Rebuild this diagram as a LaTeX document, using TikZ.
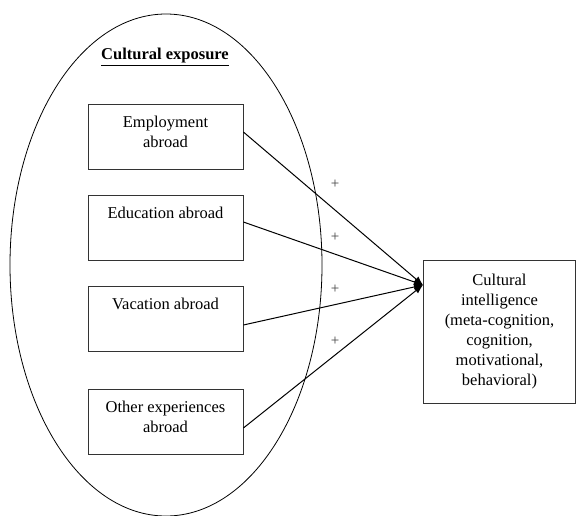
\documentclass[tikz,border=0pt]{standalone}
\usepackage{fontspec}
\setmainfont{Liberation Serif}
\usetikzlibrary{arrows.meta}
\begin{document}
\begin{tikzpicture}[x=1pt,y=-1pt,
  every node/.style={font=\fontsize{16.5}{20}\selectfont},
  srcbox/.style={draw=black!80,line width=0.8pt,minimum width=155pt,minimum height=65pt,inner sep=0pt},
  boxtext/.style={anchor=north,align=center,inner sep=0pt},
  link/.style={line width=1pt,-{Latex[length=9pt,width=7pt]}},
  plus/.style={font=\fontsize{15}{16}\selectfont,inner sep=0pt,text=black!75}]
\useasboundingbox (0,0) rectangle (576,515);
\draw[line width=0.8pt] (166,265) ellipse [x radius=156, y radius=251];
\node[font=\bfseries\fontsize{16.5}{20}\selectfont] (title) at (165,57) {\underline{Cultural exposure}};
\node[srcbox] (emp) at (165.5,136.5) {};
\node[srcbox] (edu) at (165.5,227.5) {};
\node[srcbox] (vac) at (165.5,318.5) {};
\node[srcbox] (oth) at (165.5,422) {};
\node[boxtext] (empt) at ([yshift=-12pt]emp.north) {Employment\\abroad};
\node[boxtext] (edut) at ([yshift=-12pt]edu.north) {Education abroad};
\node[boxtext] (vact) at ([yshift=-12pt]vac.north) {Vacation abroad};
\node[boxtext] (otht) at ([yshift=-12pt]oth.north) {Other experiences\\abroad};
\node[draw=black!80,line width=0.8pt,minimum width=152pt,minimum height=143pt,align=center] (ci) at (499.5,331.5)
  {Cultural\\intelligence\\(meta-cognition,\\cognition,\\motivational,\\behavioral)};
\coordinate (tip) at (423,285);
\draw[link] (emp.east |- 0,132) -- (tip);
\draw[link] (edu.east |- 0,222) -- (tip);
\draw[link] (vac.east |- 0,325) -- (tip);
\draw[link] (oth.east |- 0,428) -- (tip);
\node[plus] (p1) at (335,184) {+};
\node[plus] (p2) at (335,237) {+};
\node[plus] (p3) at (335,289) {+};
\node[plus] (p4) at (335,341) {+};
\end{tikzpicture}
\end{document}
